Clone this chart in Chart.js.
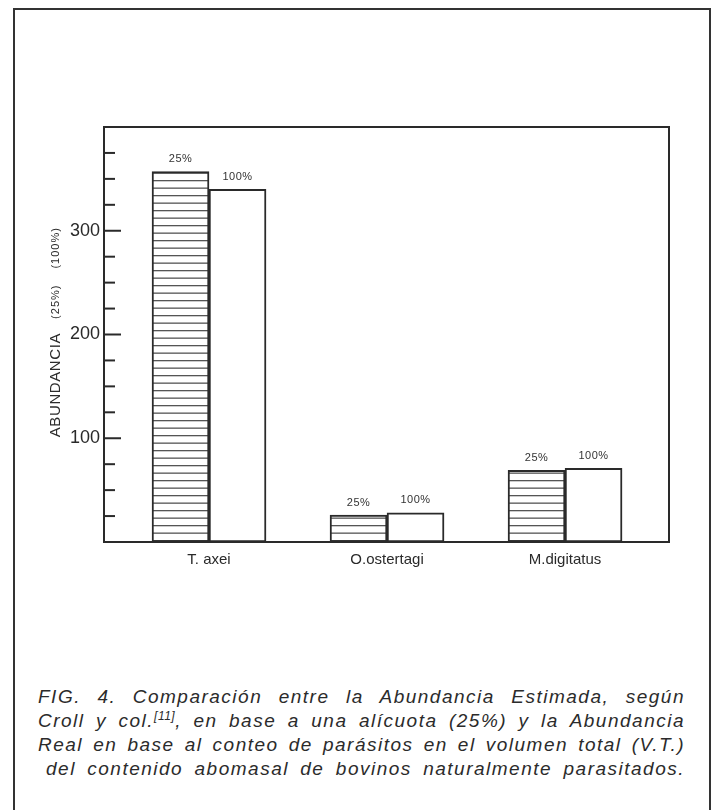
<!DOCTYPE html>
<html>
<head>
<meta charset="utf-8">
<script src="https://cdn.jsdelivr.net/npm/chart.js@4.4.1/dist/chart.umd.min.js"></script>
<style>
    body { margin: 0; background: #fff; }
    #frame { position: absolute; left: 13px; top: 8px; width: 694px; height: 810px; border: 2px solid #333; border-bottom: none; }
    #wrap { position: absolute; left: 0; top: 0; }
    #caption { position: absolute; left: 38px; top: 685px; width: 647px; font: italic 19px "Liberation Sans", Arial, sans-serif; color: #2b2b2b; letter-spacing: 1.5px; }
    #caption div { height: 24px; line-height: 24px; text-align: justify; text-align-last: justify; white-space: nowrap; }
    #caption div.last { margin-left: 8px; }
    #caption span.ref { position: relative; top: -7px; font-size: 12px; letter-spacing: 0.5px; }
</style>
</head>
<body>
<div id="frame"></div>
<div id="wrap"><canvas id="chart" width="716" height="600"></canvas></div>
<div id="caption">
    <div>FIG. 4. Comparación entre la Abundancia Estimada, según</div>
    <div>Croll y col.<span class="ref">[11]</span>, en base a una alícuota (25%) y la Abundancia</div>
    <div>Real en base al conteo de parásitos en el volumen total (V.T.)</div>
    <div class="last">del contenido abomasal de bovinos naturalmente parasitados.</div>
</div>
<script>
const categories = ['T. axei', 'O.ostertagi', 'M.digitatus'];
const seriesLabels = ['25%', '100%'];
const values25 = [357, 26, 69];
const values100 = [340, 28, 71];
const yTickLabels = [100, 200, 300];

document.addEventListener('DOMContentLoaded', function() {
    showChart();
});

function hatchPattern() {
    const c = document.createElement('canvas');
    c.width = 8;
    c.height = 15;
    const g = c.getContext('2d');
    g.fillStyle = '#fff';
    g.fillRect(0, 0, 8, 15);
    g.fillStyle = '#555';
    g.fillRect(0, 0, 8, 1.3);
    g.fillRect(0, 7.5, 8, 1.3);
    return g.createPattern(c, 'repeat');
}

const frameAndTicks = {
    id: 'frameAndTicks',
    afterDatasetsDraw(chart) {
        const ctx = chart.ctx;
        const area = chart.chartArea;
        const y = chart.scales.y;
        ctx.save();
        ctx.strokeStyle = '#2a2a2a';
        ctx.lineWidth = 2;
        ctx.strokeRect(area.left, area.top, area.right - area.left, area.bottom - area.top);
        y.ticks.forEach(t => {
            if (t.value <= 0 || t.value >= 400) return;
            const py = y.getPixelForValue(t.value);
            const len = yTickLabels.includes(t.value) ? 17 : 11;
            ctx.beginPath();
            ctx.moveTo(area.left, py);
            ctx.lineTo(area.left + len, py);
            ctx.stroke();
        });
        // bar labels
        ctx.fillStyle = '#333';
        ctx.font = '11px "Liberation Sans", Arial, sans-serif';
        ctx.letterSpacing = '0.5px';
        ctx.textAlign = 'center';
        ctx.textBaseline = 'bottom';
        chart.data.datasets.forEach((ds, i) => {
            chart.getDatasetMeta(i).data.forEach(el => {
                ctx.fillText(ds.label, el.x, el.y - 7);
            });
        });
        ctx.restore();
    }
};

const yTitle = {
    id: 'yTitle',
    afterDraw(chart) {
        const ctx = chart.ctx;
        const y = chart.scales.y;
        ctx.save();
        ctx.translate(56, y.getPixelForValue(100) - 1);
        ctx.rotate(-Math.PI / 2);
        ctx.fillStyle = '#2a2a2a';
        ctx.textBaseline = 'middle';
        ctx.textAlign = 'left';
        ctx.font = '15px "Liberation Sans", Arial, sans-serif';
        ctx.letterSpacing = '0.6px';
        let x = 0;
        ctx.fillText('ABUNDANCIA', x, 0);
        x += ctx.measureText('ABUNDANCIA').width + 14;
        ctx.font = '11px "Liberation Sans", Arial, sans-serif';
        ctx.letterSpacing = '1px';
        ctx.fillText('(25%)', x, 0);
        x += ctx.measureText('(25%)').width + 16;
        ctx.fillText('(100%)', x, 0);
        ctx.restore();
    }
};

function showChart() {
    const canvasChart = document.getElementById('chart').getContext('2d');
    const hatch = hatchPattern();
    new Chart(canvasChart, {
        type: 'bar',
        data: {
            datasets: [
                {
                    label: seriesLabels[0],
                    data: values25.map((v, i) => ({ x: i + 1, y: v })),
                    backgroundColor: hatch,
                    borderColor: '#2a2a2a',
                    borderWidth: 2,
                    borderSkipped: false
                },
                {
                    label: seriesLabels[1],
                    data: values100.map((v, i) => ({ x: i + 1, y: v })),
                    backgroundColor: '#fff',
                    borderColor: '#2a2a2a',
                    borderWidth: 2,
                    borderSkipped: false
                }
            ]
        },
        options: {
            responsive: false,
            animation: false,
            barThickness: 57,
            layout: {
                padding: { top: 127, right: 47, left: 0, bottom: 0 }
            },
            plugins: {
                legend: { display: false },
                tooltip: { enabled: false }
            },
            scales: {
                x: {
                    type: 'linear',
                    offset: false,
                    min: 0.41,
                    max: 3.584,
                    grid: { display: false, drawTicks: false, offset: false },
                    border: { display: false },
                    ticks: {
                        stepSize: 1,
                        includeBounds: false,
                        autoSkip: false,
                        maxRotation: 0,
                        padding: 9,
                        color: '#2a2a2a',
                        font: { family: '"Liberation Sans", Arial, sans-serif', size: 15 },
                        callback: v => Number.isInteger(v) ? categories[v - 1] : ''
                    },
                    afterFit: scale => { scale.height = 58; }
                },
                y: {
                    min: 0,
                    max: 400,
                    grid: { display: false, drawTicks: false },
                    border: { display: false },
                    ticks: {
                        stepSize: 25,
                        autoSkip: false,
                        padding: 4,
                        color: '#2a2a2a',
                        font: { family: '"Liberation Sans", Arial, sans-serif', size: 18 },
                        callback: v => yTickLabels.includes(v) ? String(v) : ''
                    },
                    afterFit: scale => { scale.width = 104; }
                }
            }
        },
        plugins: [frameAndTicks, yTitle]
    });
}
</script>
</body>
</html>
